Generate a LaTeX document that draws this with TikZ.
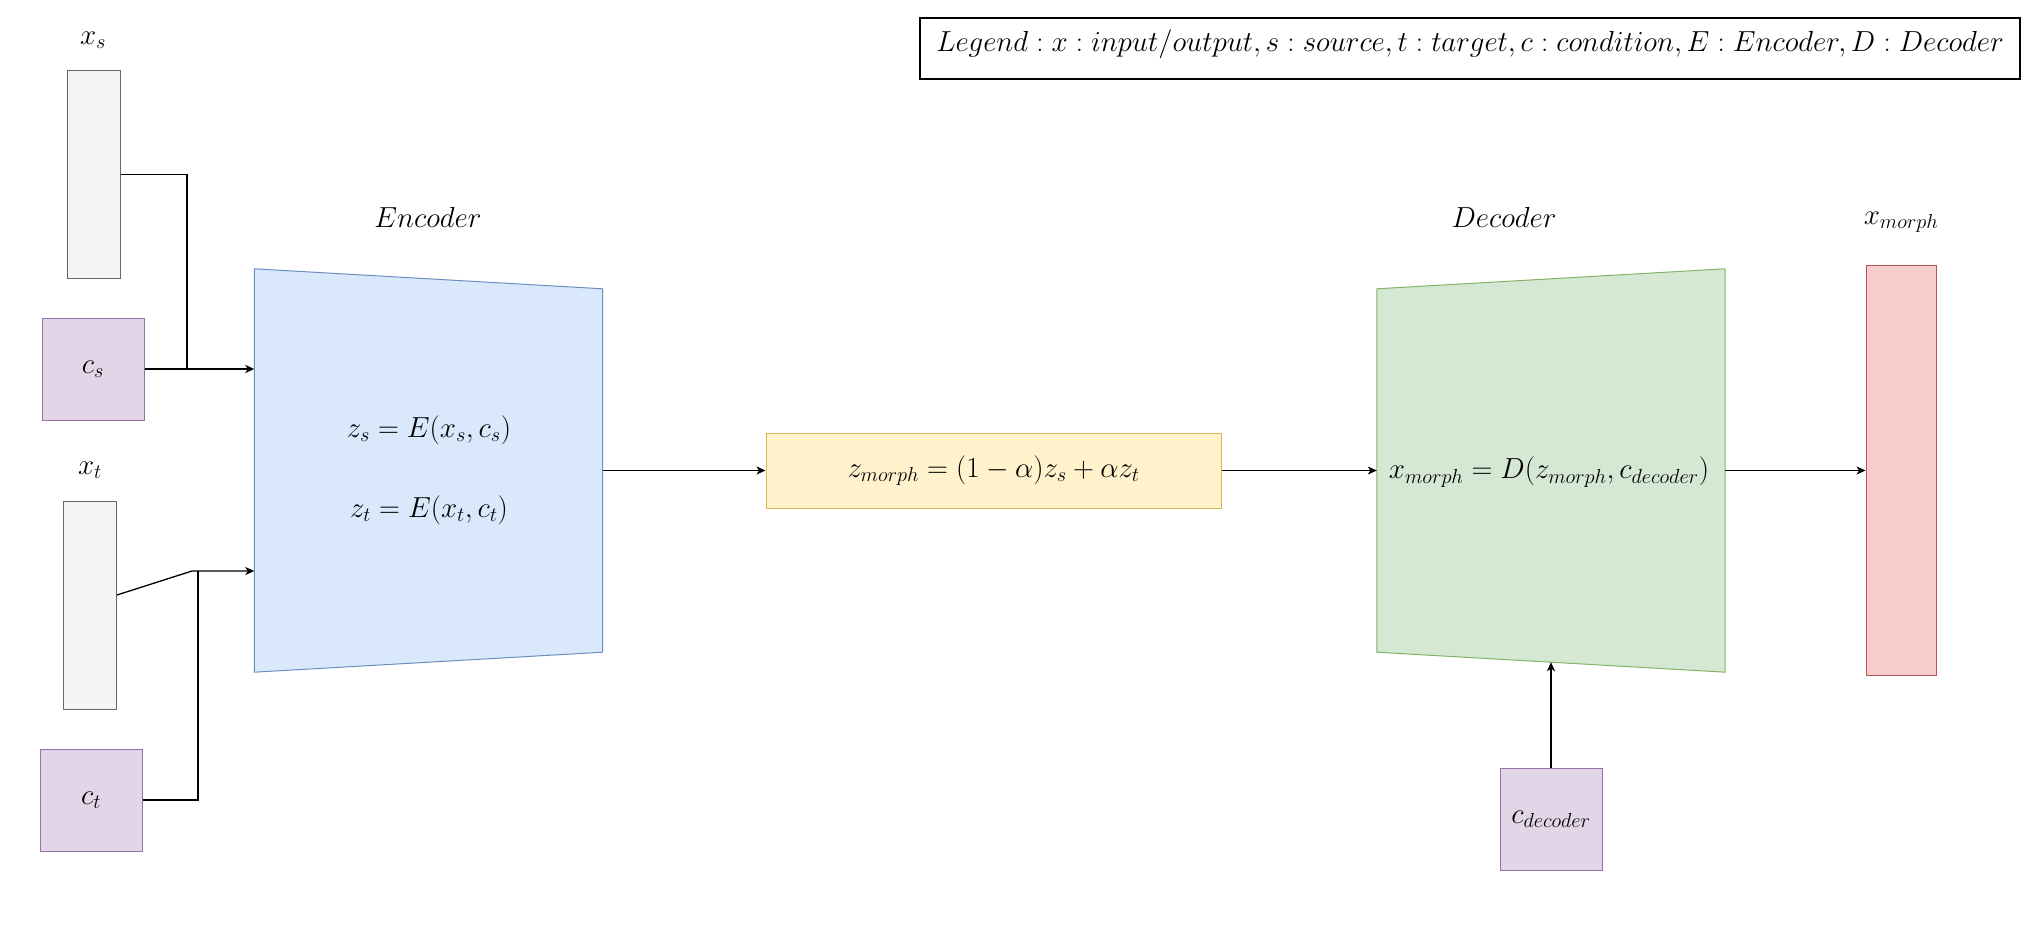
\RequirePackage{fix-cm}
\documentclass[tikz,border=0pt]{standalone}
\usepackage{amsmath}
\usetikzlibrary{positioning,arrows.meta}

\definecolor{grayfill}{HTML}{F5F5F5}
\definecolor{graydraw}{HTML}{666666}
\definecolor{purplefill}{HTML}{E1D5E7}
\definecolor{purpledraw}{HTML}{9673A6}
\definecolor{bluefill}{HTML}{DAE8FC}
\definecolor{bluedraw}{HTML}{6C8EBF}
\definecolor{yellowfill}{HTML}{FFF2CC}
\definecolor{yellowdraw}{HTML}{D6B656}
\definecolor{greenfill}{HTML}{D5E8D4}
\definecolor{greendraw}{HTML}{82B366}
\definecolor{redfill}{HTML}{F8CECC}
\definecolor{reddraw}{HTML}{B85450}

\tikzset{
	box/.style={draw, line width=1pt, inner sep=0pt},
	inputbox/.style={box, fill=grayfill, draw=graydraw, minimum width=53pt, minimum height=208pt},
	condbox/.style={box, fill=purplefill, draw=purpledraw, minimum width=102pt, minimum height=102pt},
	block/.style={inner sep=0pt, minimum width=348pt, minimum height=403pt},
	link/.style={line width=1.3pt},
	arrow/.style={link, arrows={-Stealth[length=9pt, width=8pt, inset=2.5pt]}},
}

\begin{document}
\begin{tikzpicture}[x=1pt, y=-1pt, font=\fontsize{29}{35}\selectfont]
		\useasboundingbox (0,0) rectangle (2021,925);

		% inputs and conditions
		\node (xslabel) at (93,40) {$x_s$};
		\node[inputbox] (xs) at (93.5,174.5) {};
		\node[condbox] (cs) at (93,369) {$c_s$};
		\node (xtlabel) at (90,470) {$x_t$};
		\node[inputbox] (xt) at (90,605) {};
		\node[condbox] (ct) at (91,800) {$c_t$};

		% encoder
		\node[block] (enc) at (428.5,470.5) {};
		\draw[line width=1pt, fill=bluefill, draw=bluedraw] (enc.north west) -- ([yshift=-20pt]enc.north east) -- ([yshift=20pt]enc.south east) -- (enc.south west) -- cycle;
		\node (enclabel) at (428,217) {$Encoder$};
		\node (zs) at (429,430) {$z_s = E(x_s, c_s)$};
		\node (zt) at (429,510) {$z_t = E(x_t, c_t)$};

		% latent interpolation
		\node[box, fill=yellowfill, draw=yellowdraw, minimum width=455pt, minimum height=75pt] (zmorph) at (993.5,470.5) {$z_{morph} = (1-\alpha)z_s + \alpha z_t$};

		% decoder
		\node[block] (dec) at (1551,470.5) {};
		\draw[line width=1pt, fill=greenfill, draw=greendraw] ([yshift=-20pt]dec.north west) -- (dec.north east) -- (dec.south east) -- ([yshift=20pt]dec.south west) -- cycle;
		\node (declabel) at (1504,217) {$Decoder$};
		\node (xmorphformula) at (1549,472) {$x_{morph} = D(z_{morph}, c_{decoder})$};
		\node[condbox] (cdec) at (1551,819.5) {$c_{decoder}$};

		% output
		\node[box, fill=redfill, draw=reddraw, minimum width=70pt, minimum height=409pt] (xmorph) at (1901,470.5) {};
		\node (xmorphlabel) at (1901,222) {$x_{morph}$};

		% legend
		\node[draw, line width=1.3pt, minimum width=1100pt, minimum height=61pt, text depth=15pt] (legend) at (1470,48.5) {$Legend: x: input/output, s: source, t: target, c: condition, E: Encoder, D: Decoder$};

		% connectors
		\coordinate (sjoin) at (187,369);
		\coordinate (tbend) at (192,571);
		\coordinate (tjoin) at (198,571);
		\coordinate (decin) at ([yshift=10pt]dec.south);

		\draw[link] (xs.east) -| (sjoin);
		\draw[arrow] (cs.east) -- (cs.east -| enc.west);
		\draw[arrow] ([yshift=10pt]xt.east) -- (tbend) -- (tbend -| enc.west);
		\draw[link] (ct.east) -| (tjoin);
		\draw[arrow] (enc.east) -- (zmorph.west);
		\draw[arrow] (zmorph.east) -- (dec.west);
		\draw[arrow] (dec.east) -- (xmorph.west);
		\draw[arrow] (cdec.north) -- (decin);
	\end{tikzpicture}
\end{document}
